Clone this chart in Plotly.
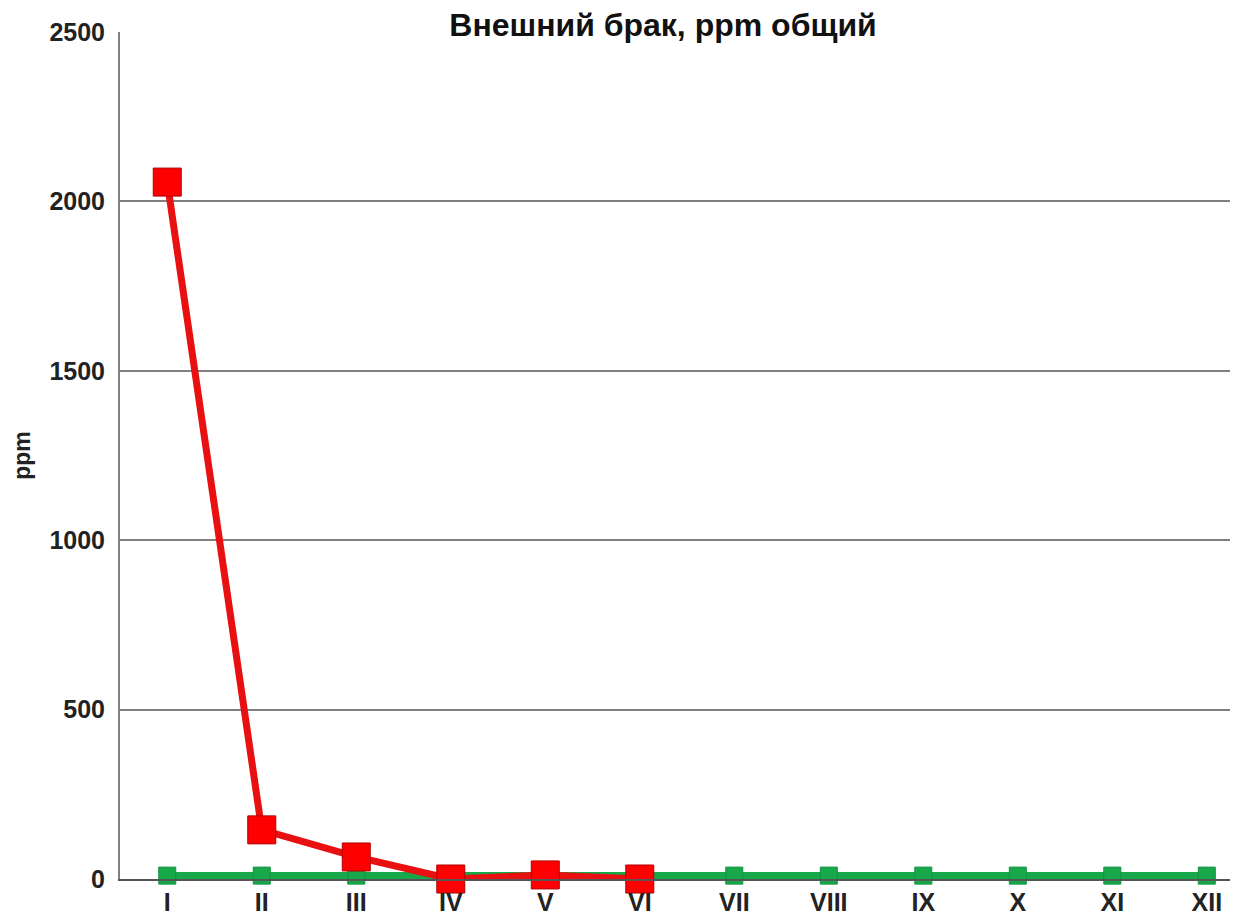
import plotly.graph_objects as go

months = ["I", "II", "III", "IV", "V", "VI", "VII", "VIII", "IX", "X", "XI", "XII"]
actual_ppm = [2057, 145, 65, 0, 12, 0]
target_ppm = [10, 10, 10, 10, 10, 10, 10, 10, 10, 10, 10, 10]

W, H = 1230, 910  # page body has an 8px offset

fig = go.Figure()
fig.add_trace(go.Scatter(
    x=months, y=target_ppm, mode="lines+markers",
    line=dict(color="#17a84a", width=7),
    marker=dict(symbol="square", size=17, color="#17a84a", line=dict(color="#139040", width=1)),
    cliponaxis=False, showlegend=False, name="Цель"))
fig.add_trace(go.Scatter(
    x=months[:len(actual_ppm)], y=actual_ppm, mode="lines+markers",
    line=dict(color="#e81010", width=7),
    marker=dict(symbol="square", size=28, color="#ff0000", line=dict(color="#b00000", width=1)),
    cliponaxis=False, showlegend=False, name="Факт"))

font_fam = "Liberation Sans, Arial, sans-serif"
fig.update_layout(
    width=W, height=H,
    margin=dict(l=112, r=0, t=24, b=39, autoexpand=False),
    paper_bgcolor="white", plot_bgcolor="white",
    font=dict(family=font_fam, color="#222222"),
    title=dict(text="<b>Внешний брак, ppm общий</b>", x=655/W, xanchor="center",
               y=1 - 17/H, yanchor="middle", font=dict(size=32, color="#111111")),
    xaxis=dict(type="category", range=[-0.5, 11.33], showgrid=False,
               showline=True, linecolor="#555555", linewidth=2, ticks="",
               tickfont=dict(size=25, color="#222222", family=font_fam, weight="bold"),
               zeroline=False),
    yaxis=dict(range=[0, 2500], tickvals=[0, 500, 1000, 1500, 2000, 2500],
               showgrid=True, gridcolor="#808080", gridwidth=2,
               showline=True, linecolor="#808080", linewidth=2, ticks="", ticklen=0,
               tickfont=dict(size=25, color="#222222", family=font_fam, weight="bold"),
               ticklabelstandoff=8, zeroline=False,
               title=dict(text="<b>ppm</b>", font=dict(size=23, color="#222222"), standoff=12)),
)
fig.write_html("out.html")
